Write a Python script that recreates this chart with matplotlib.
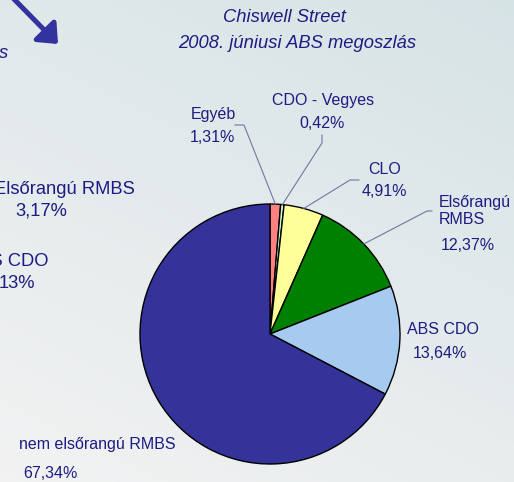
import numpy as np
import matplotlib.pyplot as plt

# Chiswell Street - 2008. juniusi ABS megoszlas
kategoriak = ["Egyéb", "CDO - Vegyes", "CLO", "Elsőrangú\nRMBS", "ABS CDO", "nem elsőrangú RMBS"]
ertekek = [1.31, 0.42, 4.91, 12.37, 13.64, 67.34]
szinek = ["#FF8080", "#CCFFCC", "#FFFF99", "#008000", "#A6CAF0", "#333399"]

# a bal oldali (levagott) masik diagram maradvanyai
bal_cimkek = ["Elsőrangú RMBS", "3,17%", "ABS CDO", "13%"]

W, H = 514, 482
navy = "#1c1c82"
fnt = "Liberation Sans"

fig = plt.figure(figsize=(W / 100, H / 100), dpi=100)

# hatter szinatmenet
bg = fig.add_axes([0, 0, 1, 1], zorder=0)
yy, xx = np.mgrid[0:H, 0:W]
t = 0.65 * (yy / H) + 0.35 * (1 - xx / W)
t = np.clip(t, 0, 1)[..., None]
c0 = np.array([0.84, 0.89, 0.90])
c1 = np.array([0.95, 0.95, 0.95])
bg.imshow(c0 + (c1 - c0) * t, aspect="auto", extent=(0, W, H, 0))
bg.axis("off")

# kordiagram
cx, cy, r = 270, 334, 130
ax = fig.add_axes([(cx - r) / W, (H - cy - r) / H, 2 * r / W, 2 * r / H], zorder=1)
wedges, _ = ax.pie(ertekek, colors=szinek, startangle=90, counterclock=False,
                   wedgeprops=dict(edgecolor="black", linewidth=1.0))
ax.set_xlim(-1, 1)
ax.set_ylim(-1, 1)
ax.set_aspect("equal")

# felirat reteg (pixel koordinatak)
ov = fig.add_axes([0, 0, 1, 1], zorder=2)
ov.set_xlim(0, W)
ov.set_ylim(H, 0)
ov.axis("off")

ov.text(284, 18, "Chiswell Street", ha="center", va="center", fontsize=13.2,
        style="italic", color=navy, family=fnt)
ov.text(297, 43, "2008. júniusi ABS megoszlás", ha="center", va="center", fontsize=13.2,
        style="italic", color=navy, family=fnt)

szazalek = [("%.2f%%" % v).replace(".", ",") for v in ertekek]
lab = dict(fontsize=11.5, color=navy, family=fnt)

ov.text(213, 115, kategoriak[0], ha="center", va="center", **lab)
ov.text(212, 138, szazalek[0], ha="center", va="center", **lab)
ov.text(323, 100, kategoriak[1], ha="center", va="center", **lab)
ov.text(322, 123, szazalek[1], ha="center", va="center", **lab)
ov.text(385, 170, kategoriak[2], ha="center", va="center", **lab)
ov.text(384, 192, szazalek[2], ha="center", va="center", **lab)
ov.text(439, 211, kategoriak[3], ha="left", va="center", linespacing=1.15, **lab)
ov.text(441, 245, szazalek[3], ha="left", va="center", **lab)
ov.text(443, 330, kategoriak[4], ha="center", va="center", **lab)
ov.text(440, 354, szazalek[4], ha="center", va="center", **lab)
ov.text(19, 444, kategoriak[5], ha="left", va="center", **lab)
ov.text(23, 474, szazalek[5], ha="left", va="center", **lab)

# vezeto vonalak a szeletek kozepehez
kezd = [(235, 125, 244, 125), (322, 135, 322, 143), (359, 180, 350, 180), (432, 211, 427, 211)]
cum = np.cumsum([0] + ertekek)
for i, (x0, y0, x1, y1) in enumerate(kezd):
    mid = np.deg2rad(90 - (cum[i] + ertekek[i] / 2) * 3.6)
    ex, ey = cx + r * np.cos(mid), cy - r * np.sin(mid)
    ov.plot([x0, x1, ex], [y0, y1, ey], color="#7474a6", lw=0.8)

# bal oldali maradvanyok
big = dict(fontsize=13.2, color=navy, family=fnt)
ov.text(135, 190, bal_cimkek[0], ha="right", va="center", **big)
ov.text(41, 211, bal_cimkek[1], ha="center", va="center", **big)
ov.text(49, 262, bal_cimkek[2], ha="right", va="center", **big)
ov.text(-1, 283, bal_cimkek[3], ha="left", va="center", **big)
ov.text(8, 53, "s", ha="right", va="center", style="italic", **big)
ov.annotate("", xy=(58, 44), xytext=(10, -5),
            arrowprops=dict(arrowstyle="-|>,head_length=1.05,head_width=0.9",
                            color="#33339f", lw=3.6, shrinkA=0, shrinkB=0))

fig.savefig("out.png", dpi=100)
